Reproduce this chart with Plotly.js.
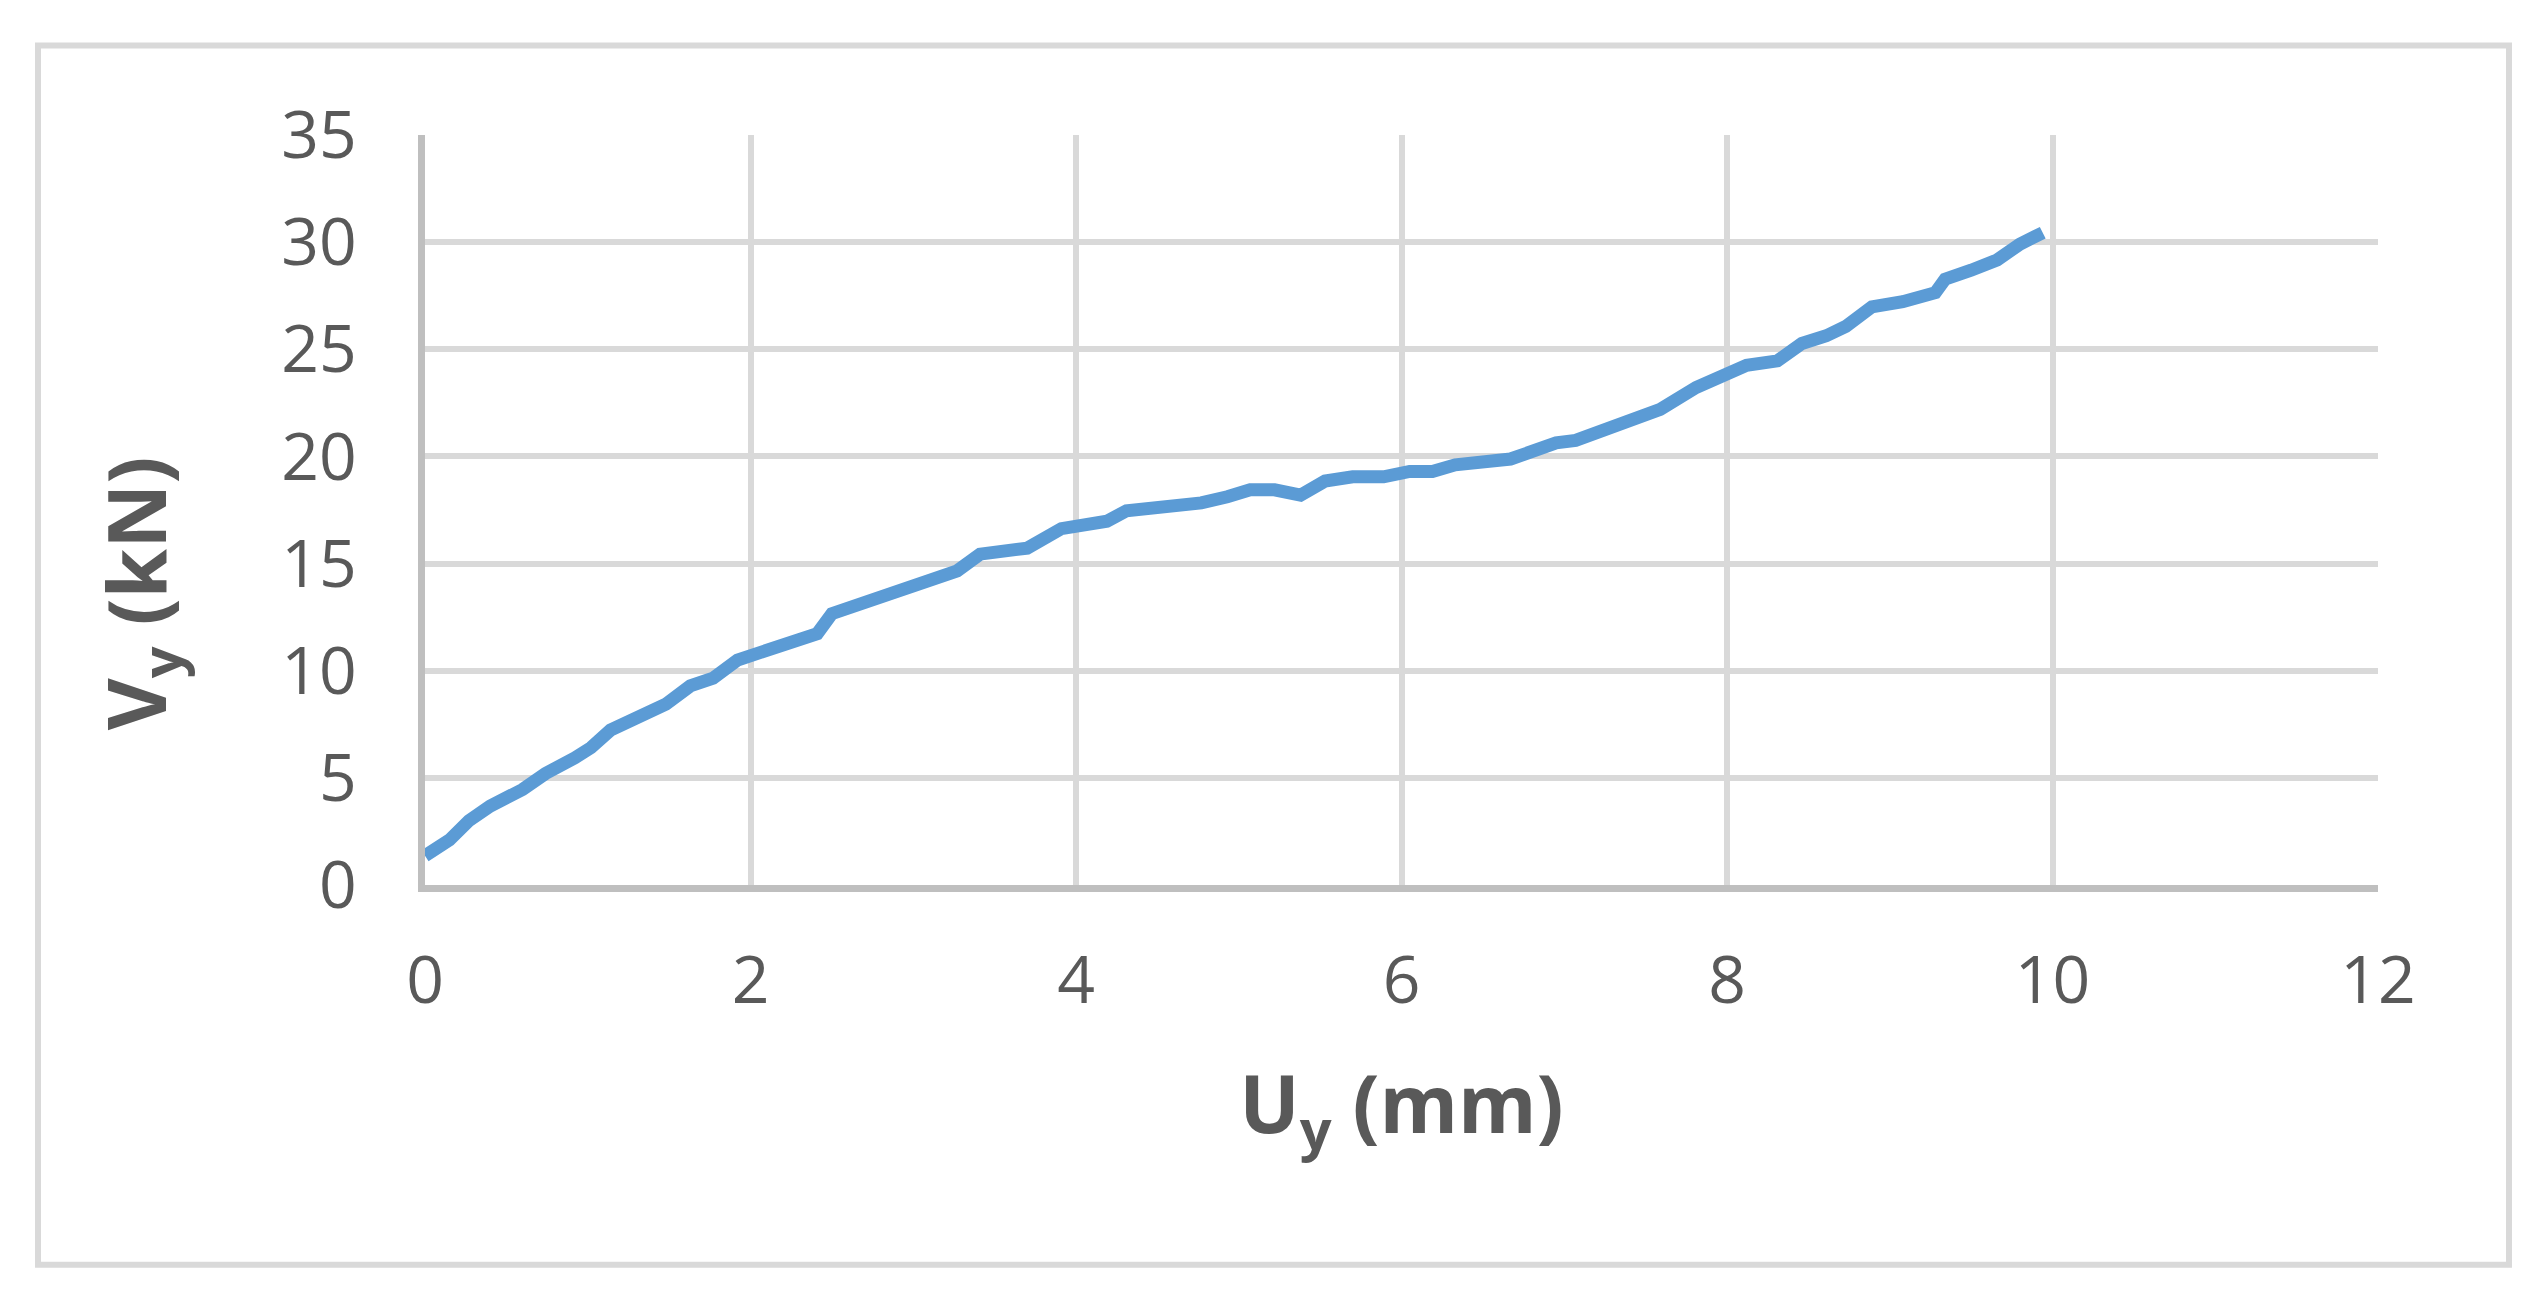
<!DOCTYPE html>
<html>
<head>
<meta charset="utf-8">
<script src="https://cdn.plot.ly/plotly-3.0.1.min.js"></script>
<style>
  html, body { margin: 0; padding: 0; background: #ffffff; }
  #chart { width: 2546px; height: 1301px; }
</style>
</head>
<body>
<div id="chart"></div>
<script>
// Displacement U_y (mm)
const uy = [0, 0.15, 0.27, 0.40, 0.60, 0.74, 0.92, 1.02, 1.14, 1.26, 1.37, 1.48, 1.63, 1.77, 1.92,
  2.08, 2.22, 2.41, 2.50, 2.66, 2.88, 3.00, 3.15, 3.27, 3.41, 3.70, 3.91, 4.19, 4.31, 4.48,
  4.67, 4.77, 4.93, 5.07, 5.22, 5.38, 5.53, 5.70, 5.89, 6.05, 6.19, 6.33, 6.67, 6.80, 6.95,
  7.07, 7.27, 7.43, 7.59, 7.81, 8.01, 8.12, 8.31, 8.46, 8.61, 8.73, 8.89, 9.08, 9.28, 9.34,
  9.50, 9.66, 9.80, 9.94];
// Shear force V_y (kN)
const vy = [1.36, 2.10, 3.00, 3.68, 4.46, 5.20, 5.93, 6.41, 7.23, 7.70, 8.07, 8.44, 9.29, 9.65, 10.50,
  10.93, 11.37, 11.73, 12.66, 13.07, 13.68, 13.93, 14.41, 14.66, 15.44, 15.72, 16.63, 16.98, 17.46, 17.58,
  17.83, 17.83, 18.12, 18.44, 18.44, 18.19, 18.85, 19.05, 19.05, 19.30, 19.30, 19.61, 19.88, 20.27, 20.63,
  20.75, 21.29, 21.73, 22.20, 23.22, 23.93, 24.25, 24.46, 25.27, 25.63, 26.07, 26.98, 27.22, 27.64, 28.27,
  28.69, 29.17, 29.91, 30.44];

const xTickVals = [0, 2, 4, 6, 8, 10, 12];
const yTickVals = [0, 5, 10, 15, 20, 25, 30, 35];

const textColor = '#595959';
const gridColor = '#d9d9d9';
const axisColor = '#bfbfbf';
const fontFamily = '"Open Sans", "Noto Sans", sans-serif';

const trace = {
  x: uy,
  y: vy,
  type: 'scatter',
  mode: 'lines',
  line: { color: '#5b9bd5', width: 13 },
  cliponaxis: false,
  hoverinfo: 'x+y'
};

const layout = {
  width: 2546,
  height: 1301,
  paper_bgcolor: '#ffffff',
  plot_bgcolor: '#ffffff',
  margin: { l: 425, r: 168, t: 135, b: 416 },
  showlegend: false,
  font: { family: fontFamily, color: textColor, size: 66 },
  xaxis: {
    range: [0, 12],
    tickvals: xTickVals,
    ticktext: xTickVals.map(String),
    showgrid: true,
    gridcolor: gridColor,
    gridwidth: 6,
    zeroline: false,
    showline: true,
    linecolor: axisColor,
    linewidth: 7,
    ticks: '',
    ticklabelstandoff: 32,
    tickfont: { family: fontFamily, size: 66, color: textColor },
    fixedrange: true,
    title: {
      text: 'U<sub>y</sub> (mm)',
      font: { family: fontFamily, size: 80, color: textColor, weight: 'bold' },
      standoff: 58
    }
  },
  yaxis: {
    range: [0, 35],
    tickvals: yTickVals,
    ticktext: yTickVals.map(String),
    showgrid: true,
    gridcolor: gridColor,
    gridwidth: 6,
    zeroline: false,
    showline: true,
    linecolor: axisColor,
    linewidth: 7,
    ticks: '',
    ticklabelstandoff: 48,
    tickfont: { family: fontFamily, size: 66, color: textColor },
    fixedrange: true
  },
  annotations: [{
    text: 'V<sub>y</sub> (kN)',
    xref: 'paper', yref: 'paper',
    x: -0.1465, y: 0.389,
    xanchor: 'center', yanchor: 'middle',
    textangle: -90,
    showarrow: false,
    font: { family: fontFamily, size: 80, color: textColor, weight: 'bold' }
  }],
  shapes: [{
    type: 'rect',
    xref: 'paper', yref: 'paper',
    x0: -0.19815, x1: 1.06707,
    y0: -0.50633, y1: 1.11925,
    line: { color: gridColor, width: 6 },
    fillcolor: 'rgba(0,0,0,0)',
    layer: 'below'
  }]
};

Plotly.newPlot('chart', [trace], layout, { displayModeBar: false, staticPlot: true });
</script>
</body>
</html>
